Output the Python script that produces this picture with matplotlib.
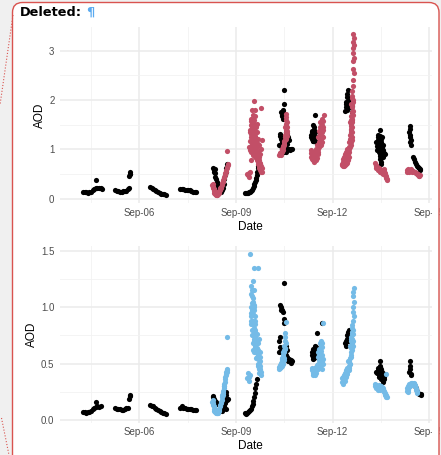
"""
AOD time series for two wavelengths, ground (black) vs. retrieval (colour)
"""

import numpy as np
import matplotlib.pyplot as plt
import matplotlib as mpl
from matplotlib.patches import FancyBboxPatch, Rectangle
from matplotlib.lines import Line2D
from matplotlib.transforms import IdentityTransform

mpl.rcParams.update(mpl.rcParamsDefault)
plt.rc('font', **{'family': 'sans-serif', 'sans-serif': ['Liberation Sans'], 'size': 7})

#%% data: (day of September, AOD)

tick_days = [6, 9, 12, 15]
tick_labels = ['Sep-06', 'Sep-09', 'Sep-12', 'Sep-15']

# upper panel, ground measurements
top_black = [
    (4.26, 0.15), (4.30, 0.14), (4.35, 0.14), (4.40, 0.13), (4.45, 0.14), (4.50, 0.15),
    (4.55, 0.18), (4.60, 0.21), (4.65, 0.23), (4.70, 0.22), (4.75, 0.23), (4.80, 0.22),
    (4.83, 0.21), (4.64, 0.38),
    (5.25, 0.18), (5.30, 0.17), (5.35, 0.16), (5.40, 0.15), (5.45, 0.15), (5.50, 0.16),
    (5.55, 0.17), (5.60, 0.17), (5.65, 0.20), (5.68, 0.22), (5.69, 0.46), (5.70, 0.50),
    (5.71, 0.54), (5.72, 0.51),
    (6.33, 0.24), (6.38, 0.22), (6.43, 0.20), (6.48, 0.18), (6.53, 0.16), (6.58, 0.14),
    (6.63, 0.12), (6.68, 0.11), (6.73, 0.10), (6.78, 0.10), (6.82, 0.09),
    (7.27, 0.20), (7.32, 0.21), (7.37, 0.20), (7.42, 0.19), (7.47, 0.19), (7.52, 0.18),
    (7.57, 0.18), (7.62, 0.17), (7.67, 0.15), (7.72, 0.14), (7.76, 0.15),
    (8.30, 0.62), (8.32, 0.58), (8.34, 0.52), (8.36, 0.45), (8.38, 0.40), (8.40, 0.35),
    (8.42, 0.30), (8.44, 0.26), (8.46, 0.22), (8.48, 0.20), (8.50, 0.18), (8.52, 0.16),
    (8.55, 0.15), (8.58, 0.18), (8.60, 0.22), (8.62, 0.30), (8.64, 0.40), (8.66, 0.48),
    (8.68, 0.55), (8.70, 0.62), (8.72, 0.70), (8.34, 0.60), (8.31, 0.55),
    (9.28, 0.13), (9.31, 0.12), (9.34, 0.12), (9.37, 0.13), (9.40, 0.14), (9.43, 0.15),
    (9.46, 0.17), (9.49, 0.19), (9.52, 0.22), (9.55, 0.26), (9.57, 0.30), (9.59, 0.34),
    (9.61, 0.38), (9.63, 0.42), (9.65, 0.48), (9.67, 0.55), (9.68, 0.62), (9.70, 0.66),
    (10.50, 2.20), (10.48, 1.92), (10.45, 1.80), (10.40, 1.75), (10.43, 1.68), (10.47, 1.62),
    (10.38, 1.28), (10.40, 1.22), (10.42, 1.15), (10.45, 1.10), (10.48, 1.05), (10.52, 1.00),
    (10.55, 0.95), (10.58, 1.02), (10.62, 1.25), (10.65, 1.20), (10.60, 1.30), (10.70, 1.02),
    (10.74, 1.00), (10.68, 0.98), (10.55, 1.35), (10.36, 1.32), (10.33, 1.10),
    (10.41, 1.08), (10.44, 1.02), (10.47, 0.98), (10.50, 0.95), (10.53, 1.05), (10.57, 0.98),
    (10.63, 1.00), (10.66, 1.02), (10.60, 1.12), (10.43, 1.70), (10.46, 1.75),
    (11.46, 1.70), (11.40, 1.50), (11.42, 1.45), (11.35, 1.38), (11.38, 1.32), (11.40, 1.28),
    (11.36, 1.25), (11.42, 1.22), (11.38, 1.18), (11.44, 1.20), (11.33, 1.30), (11.45, 1.35),
    (11.48, 1.15), (11.34, 1.25), (11.37, 1.22), (11.40, 1.18), (11.43, 1.25), (11.46, 1.28),
    (11.37, 1.35), (11.41, 1.40),
    (12.49, 2.20), (12.45, 2.12), (12.52, 2.05), (12.47, 1.98), (12.55, 2.02), (12.42, 1.92),
    (12.50, 1.90), (12.58, 1.95), (12.44, 1.80), (12.40, 1.78), (12.53, 1.85), (12.62, 1.88),
    (12.60, 1.75), (12.43, 1.95), (12.46, 2.06), (12.51, 1.96), (12.56, 1.92), (12.48, 1.84),
    (12.42, 1.85),
    (13.48, 1.40), (13.46, 1.28), (13.50, 1.22), (13.42, 1.20), (13.40, 1.12), (13.45, 1.10),
    (13.52, 1.15), (13.55, 1.05), (13.48, 1.02), (13.38, 1.08), (13.44, 1.00), (13.50, 0.95),
    (13.56, 0.98), (13.60, 0.92), (13.52, 0.88), (13.58, 0.85), (13.48, 0.80), (13.50, 0.75),
    (13.52, 0.70), (13.36, 1.15), (13.42, 1.30), (13.54, 1.25), (13.62, 0.90),
    (13.41, 1.25), (13.44, 1.18), (13.47, 1.15), (13.50, 1.08), (13.53, 1.02), (13.46, 1.05),
    (13.41, 1.04), (13.39, 0.98), (13.43, 0.94), (13.47, 0.90), (13.53, 0.92), (13.57, 0.95),
    (13.55, 0.90), (13.49, 0.86), (13.51, 0.82), (13.45, 1.22), (13.58, 1.10),
    (14.40, 1.48), (14.41, 1.42), (14.39, 1.35), (14.42, 1.30), (14.40, 1.25), (14.43, 1.20),
    (14.41, 1.15), (14.44, 1.10), (14.50, 0.85), (14.53, 0.80), (14.56, 0.75), (14.59, 0.70),
    (14.62, 0.67), (14.65, 0.64), (14.68, 0.62), (14.71, 0.60), (14.73, 0.59),
]

# upper panel, retrieval
top_red = [
    (8.28, 0.30), (8.30, 0.25), (8.32, 0.20), (8.34, 0.15), (8.36, 0.12), (8.38, 0.10),
    (8.40, 0.09), (8.43, 0.10), (8.46, 0.12), (8.49, 0.16), (8.52, 0.20), (8.55, 0.25),
    (8.58, 0.32), (8.61, 0.38), (8.64, 0.45), (8.67, 0.52), (8.70, 0.58), (8.72, 0.64),
    (8.74, 0.68), (8.71, 0.96), (8.45, 0.14), (8.50, 0.22),
    (8.27, 0.28), (8.29, 0.22), (8.31, 0.17), (8.33, 0.12), (8.35, 0.10), (8.37, 0.08),
    (8.41, 0.08), (8.44, 0.11), (8.47, 0.14), (8.51, 0.18), (8.54, 0.22), (8.57, 0.28),
    (8.60, 0.35), (8.63, 0.42), (8.66, 0.48), (8.69, 0.55), (8.73, 0.62), (8.75, 0.70),
    (9.56, 1.98), (9.50, 1.80), (9.58, 1.80), (9.78, 1.83), (9.48, 1.62), (9.52, 1.55),
    (9.55, 1.48), (9.50, 1.42), (9.57, 1.38), (9.47, 1.32), (9.60, 1.28), (9.53, 1.25),
    (9.45, 1.18), (9.62, 1.20), (9.58, 1.12), (9.50, 1.10), (9.66, 1.05), (9.54, 1.02),
    (9.45, 0.98), (9.70, 0.95), (9.60, 0.92), (9.52, 0.88), (9.68, 0.85), (9.72, 1.10),
    (9.75, 0.90), (9.64, 0.80), (9.70, 0.75), (9.74, 0.70), (9.76, 0.65), (9.78, 0.60),
    (9.80, 0.55), (9.72, 0.62), (9.44, 1.40), (9.48, 1.50), (9.55, 1.60), (9.62, 1.45),
    (9.66, 1.35), (9.70, 1.22), (9.42, 1.05), (9.40, 0.52), (9.38, 0.48), (9.42, 0.45),
    (9.36, 0.50), (9.44, 0.55), (9.58, 1.68), (9.52, 1.70), (9.64, 1.52), (9.46, 1.25),
    (9.60, 1.00), (9.55, 0.95), (9.48, 0.78), (9.80, 1.20), (9.78, 1.00),
    (9.46, 1.58), (9.51, 1.52), (9.57, 1.50), (9.49, 1.45), (9.54, 1.40), (9.59, 1.35),
    (9.45, 1.35), (9.51, 1.32), (9.56, 1.28), (9.49, 1.22), (9.58, 1.18), (9.63, 1.15),
    (9.52, 1.15), (9.47, 1.08), (9.56, 1.06), (9.62, 1.08), (9.68, 1.12), (9.51, 1.00),
    (9.58, 0.98), (9.65, 0.96), (9.48, 0.95), (9.55, 0.90), (9.62, 0.88), (9.72, 0.85),
    (9.58, 0.84), (9.66, 0.78), (9.73, 0.78), (9.68, 0.70), (9.76, 0.72), (9.71, 0.66),
    (9.78, 0.66), (9.74, 0.58), (9.80, 0.62), (9.77, 0.55),
    (10.55, 1.72), (10.57, 1.60), (10.55, 1.52), (10.52, 1.45), (10.56, 1.40), (10.58, 1.33),
    (10.60, 1.28), (10.55, 1.22), (10.50, 1.18), (10.48, 1.12), (10.45, 1.05), (10.42, 1.00),
    (10.40, 0.95), (10.37, 0.90), (10.35, 0.88), (10.38, 0.92), (10.45, 0.98), (10.50, 1.10),
    (10.53, 1.25), (10.58, 1.45), (10.60, 1.38), (10.43, 0.95), (10.47, 1.08),
    (10.36, 0.92), (10.39, 0.88), (10.41, 0.93), (10.44, 1.02), (10.46, 1.05), (10.49, 1.15),
    (10.51, 1.20), (10.54, 1.30), (10.56, 1.35), (10.57, 1.48), (10.58, 1.55), (10.56, 1.65),
    (11.74, 1.70), (11.68, 1.62), (11.62, 1.55), (11.66, 1.50), (11.60, 1.45), (11.64, 1.40),
    (11.58, 1.38), (11.62, 1.32), (11.68, 1.28), (11.55, 1.25), (11.60, 1.20), (11.66, 1.15),
    (11.70, 1.25), (11.52, 1.10), (11.58, 1.05), (11.50, 1.00), (11.45, 0.95), (11.40, 0.92),
    (11.35, 0.95), (11.32, 0.98), (11.38, 0.85), (11.42, 0.80), (11.48, 0.78), (11.52, 0.82),
    (11.55, 0.90), (11.47, 0.88), (11.36, 0.90), (11.72, 1.40), (11.64, 1.10), (11.56, 0.95),
    (11.44, 0.75),
    (11.34, 0.92), (11.37, 0.88), (11.40, 0.85), (11.43, 0.82), (11.46, 0.82), (11.50, 0.86),
    (11.53, 0.92), (11.33, 0.85), (11.36, 0.80), (11.40, 0.78), (11.44, 0.78), (11.48, 0.92),
    (11.52, 0.98), (11.42, 0.88), (11.38, 0.95), (11.56, 1.02), (11.60, 1.10), (11.63, 1.18),
    (11.58, 1.15), (11.65, 1.25), (11.61, 1.28), (11.67, 1.35), (11.63, 1.45), (11.69, 1.45),
    (11.65, 1.55), (11.70, 1.58),
    (12.65, 3.33), (12.66, 3.25), (12.64, 3.18), (12.66, 3.12), (12.65, 3.05), (12.64, 2.95),
    (12.66, 2.85), (12.65, 2.78), (12.64, 2.62), (12.66, 2.55), (12.63, 2.40), (12.65, 2.28),
    (12.62, 2.18), (12.60, 2.08), (12.63, 2.00), (12.58, 1.92), (12.62, 1.85), (12.60, 1.75),
    (12.57, 1.68), (12.61, 1.60), (12.59, 1.52), (12.62, 1.45), (12.56, 1.40), (12.60, 1.35),
    (12.58, 1.28), (12.55, 1.22), (12.52, 1.15), (12.56, 1.10), (12.50, 1.05), (12.46, 1.00),
    (12.42, 0.95), (12.40, 0.90), (12.36, 0.85), (12.34, 0.80), (12.32, 0.75), (12.30, 0.70),
    (12.33, 0.66), (12.38, 0.68), (12.44, 0.72), (12.48, 0.78), (12.52, 0.85), (12.45, 0.88),
    (12.40, 0.75), (12.36, 0.72), (12.50, 0.95), (12.54, 1.30), (12.64, 1.70), (12.55, 1.55),
    (12.62, 1.25),
    (12.31, 0.68), (12.34, 0.70), (12.37, 0.66), (12.41, 0.70), (12.43, 0.80), (12.46, 0.84),
    (12.49, 0.90), (12.33, 0.72), (12.39, 0.82), (12.47, 0.95), (12.52, 1.00), (12.55, 1.05),
    (12.53, 1.18), (12.58, 1.15), (12.57, 1.35), (12.59, 1.42), (12.61, 1.55), (12.60, 1.62),
    (12.63, 1.78), (12.61, 1.90), (12.64, 1.95), (12.62, 2.05), (12.58, 1.60), (12.56, 1.48),
    (12.60, 1.20), (12.35, 0.78), (12.42, 0.86),
    (13.33, 0.72), (13.36, 0.68), (13.38, 0.65), (13.40, 0.62), (13.43, 0.63), (13.46, 0.60),
    (13.50, 0.58), (13.53, 0.56), (13.56, 0.55), (13.60, 0.60), (13.62, 0.52), (13.64, 0.48),
    (13.66, 0.44), (13.68, 0.40), (13.35, 0.62), (13.42, 0.58), (13.48, 0.55), (13.58, 0.50),
    (13.34, 0.66), (13.37, 0.62), (13.41, 0.60), (13.44, 0.58), (13.47, 0.57), (13.51, 0.55),
    (13.55, 0.52), (13.59, 0.55), (13.61, 0.56), (13.63, 0.50), (13.65, 0.46), (13.67, 0.42),
    (13.69, 0.38),
    (14.30, 0.55), (14.34, 0.56), (14.38, 0.55), (14.42, 0.56), (14.46, 0.55), (14.50, 0.57),
    (14.54, 0.55), (14.58, 0.52), (14.62, 0.50), (14.66, 0.48), (14.70, 0.47), (14.36, 0.60),
    (14.44, 0.60), (14.32, 0.58), (14.40, 0.58), (14.48, 0.56), (14.52, 0.54), (14.56, 0.54),
    (14.60, 0.52), (14.64, 0.50), (14.68, 0.46), (14.71, 0.48),
]

# lower panel, ground measurements
bottom_black = [
    (4.26, 0.07), (4.30, 0.07), (4.35, 0.065), (4.40, 0.07), (4.45, 0.075), (4.50, 0.08),
    (4.55, 0.10), (4.60, 0.11), (4.65, 0.115), (4.70, 0.12), (4.75, 0.115), (4.80, 0.12),
    (4.66, 0.16),
    (5.25, 0.11), (5.30, 0.10), (5.35, 0.10), (5.40, 0.095), (5.45, 0.09), (5.50, 0.09),
    (5.55, 0.10), (5.60, 0.11), (5.65, 0.11), (5.69, 0.19), (5.70, 0.21), (5.71, 0.22),
    (6.33, 0.13), (6.38, 0.125), (6.43, 0.12), (6.48, 0.11), (6.53, 0.10), (6.58, 0.09),
    (6.63, 0.08), (6.68, 0.07), (6.73, 0.065), (6.78, 0.06), (6.82, 0.055),
    (7.27, 0.11), (7.32, 0.12), (7.37, 0.11), (7.42, 0.11), (7.47, 0.10), (7.52, 0.10),
    (7.57, 0.10), (7.62, 0.095), (7.67, 0.09), (7.72, 0.09), (7.76, 0.085),
    (8.28, 0.21), (8.30, 0.20), (8.33, 0.19), (8.36, 0.17), (8.39, 0.16), (8.42, 0.14),
    (8.58, 0.08), (8.61, 0.10), (8.63, 0.12), (8.65, 0.15), (8.67, 0.18), (8.69, 0.22),
    (8.70, 0.25), (8.72, 0.18), (8.74, 0.19), (8.68, 0.10),
    (9.28, 0.06), (9.31, 0.055), (9.34, 0.06), (9.37, 0.07), (9.40, 0.08), (9.43, 0.09),
    (9.46, 0.10), (9.49, 0.12), (9.52, 0.14), (9.54, 0.17), (9.56, 0.20), (9.58, 0.24),
    (9.60, 0.28), (9.62, 0.32), (9.64, 0.36),
    (10.50, 1.22), (10.38, 1.02), (10.40, 1.00), (10.43, 0.98), (10.46, 0.96), (10.48, 0.90),
    (10.50, 0.86), (10.36, 0.74), (10.34, 0.70), (10.36, 0.65), (10.40, 0.60), (10.48, 0.62),
    (10.52, 0.60), (10.55, 0.58), (10.58, 0.55), (10.62, 0.52), (10.66, 0.52), (10.70, 0.51),
    (10.74, 0.52), (10.56, 0.66), (10.60, 0.62), (10.33, 0.60),
    (10.42, 0.62), (10.45, 0.64), (10.52, 0.56), (10.56, 0.54), (10.60, 0.56), (10.64, 0.54),
    (10.68, 0.52), (10.72, 0.53), (10.39, 0.98),
    (11.51, 0.77), (11.66, 0.86), (11.36, 0.60), (11.38, 0.63), (11.40, 0.58), (11.42, 0.62),
    (11.44, 0.55), (11.46, 0.60), (11.48, 0.65), (11.50, 0.58), (11.52, 0.56), (11.40, 0.54),
    (11.45, 0.66), (11.54, 0.62), (11.38, 0.56), (11.37, 0.58), (11.41, 0.60), (11.43, 0.58),
    (11.47, 0.57), (11.49, 0.62), (11.51, 0.60),
    (12.40, 0.68), (12.42, 0.70), (12.44, 0.72), (12.46, 0.75), (12.48, 0.78), (12.50, 0.80),
    (12.43, 0.66), (12.47, 0.70), (12.52, 0.74),
    (13.48, 0.52), (13.46, 0.48), (13.42, 0.46), (13.40, 0.44), (13.38, 0.42), (13.36, 0.43),
    (13.44, 0.42), (13.48, 0.44), (13.52, 0.45), (13.55, 0.43), (13.50, 0.40), (13.54, 0.38),
    (13.58, 0.40), (13.60, 0.36), (13.56, 0.34), (13.52, 0.36), (13.44, 0.38), (13.62, 0.41),
    (13.41, 0.43), (13.45, 0.45), (13.49, 0.47), (13.53, 0.41), (13.57, 0.37), (13.47, 0.41),
    (13.51, 0.38), (13.55, 0.40), (13.59, 0.38), (13.43, 0.40),
    (14.41, 0.52), (14.40, 0.48), (14.42, 0.45), (14.39, 0.43), (14.43, 0.41), (14.45, 0.40),
    (14.52, 0.32), (14.55, 0.30), (14.58, 0.28), (14.62, 0.26), (14.66, 0.24), (14.70, 0.23),
    (14.74, 0.23), (14.76, 0.22),
]

# lower panel, retrieval
bottom_blue = [
    (8.28, 0.18), (8.30, 0.15), (8.32, 0.12), (8.34, 0.10), (8.36, 0.08), (8.38, 0.07),
    (8.40, 0.06), (8.43, 0.07), (8.46, 0.08), (8.49, 0.10), (8.52, 0.13), (8.55, 0.16),
    (8.58, 0.20), (8.60, 0.24), (8.62, 0.28), (8.64, 0.32), (8.66, 0.36), (8.68, 0.40),
    (8.70, 0.43), (8.72, 0.45), (8.73, 0.74), (8.45, 0.06), (8.50, 0.12), (8.56, 0.22),
    (8.62, 0.30),
    (8.27, 0.16), (8.29, 0.13), (8.31, 0.10), (8.33, 0.08), (8.35, 0.07), (8.37, 0.06),
    (8.42, 0.065), (8.44, 0.075), (8.47, 0.09), (8.51, 0.12), (8.54, 0.15), (8.57, 0.18),
    (8.59, 0.22), (8.61, 0.26), (8.63, 0.30), (8.65, 0.34), (8.67, 0.38), (8.69, 0.41),
    (8.71, 0.44), (8.73, 0.43),
    (9.45, 1.47), (9.56, 1.35), (9.70, 1.35), (9.52, 1.23), (9.48, 1.19), (9.55, 1.15),
    (9.50, 1.10), (9.53, 1.05), (9.47, 1.00), (9.55, 0.98), (9.50, 0.95), (9.58, 0.92),
    (9.52, 0.88), (9.46, 0.85), (9.56, 0.82), (9.60, 0.78), (9.50, 0.75), (9.64, 0.76),
    (9.55, 0.72), (9.62, 0.70), (9.68, 0.68), (9.58, 0.65), (9.52, 0.62), (9.66, 0.60),
    (9.70, 0.58), (9.62, 0.55), (9.74, 0.52), (9.70, 0.50), (9.76, 0.48), (9.72, 0.45),
    (9.78, 0.43), (9.74, 0.60), (9.48, 0.92), (9.44, 0.40), (9.40, 0.38), (9.36, 0.37),
    (9.42, 0.35), (9.38, 0.42), (9.56, 1.00), (9.60, 0.88), (9.72, 0.72), (9.76, 0.56),
    (9.47, 1.12), (9.52, 1.08), (9.49, 1.04), (9.55, 1.02), (9.51, 0.98), (9.54, 0.94),
    (9.48, 0.88), (9.53, 0.85), (9.58, 0.85), (9.51, 0.80), (9.55, 0.78), (9.60, 0.74),
    (9.57, 0.70), (9.52, 0.68), (9.60, 0.66), (9.64, 0.64), (9.56, 0.60), (9.62, 0.60),
    (9.68, 0.62), (9.66, 0.56), (9.70, 0.54), (9.73, 0.50), (9.68, 0.48), (9.75, 0.45),
    (9.72, 0.42), (9.77, 0.40), (9.50, 1.15), (9.46, 0.95), (9.58, 0.80),
    (10.56, 0.87), (10.52, 0.70), (10.50, 0.66), (10.48, 0.62), (10.46, 0.58), (10.44, 0.55),
    (10.42, 0.52), (10.40, 0.50), (10.38, 0.48), (10.36, 0.46), (10.34, 0.45), (10.45, 0.60),
    (10.50, 0.55), (10.54, 0.63), (10.47, 0.50), (10.41, 0.47), (10.53, 0.77),
    (10.35, 0.47), (10.37, 0.49), (10.39, 0.51), (10.43, 0.54), (10.47, 0.57), (10.49, 0.60),
    (10.52, 0.64), (10.55, 0.68), (10.54, 0.74), (10.44, 0.48), (10.48, 0.53),
    (11.71, 0.86), (11.64, 0.70), (11.60, 0.68), (11.66, 0.65), (11.58, 0.63), (11.62, 0.60),
    (11.68, 0.58), (11.56, 0.56), (11.60, 0.54), (11.66, 0.52), (11.70, 0.50), (11.55, 0.50),
    (11.58, 0.46), (11.52, 0.46), (11.48, 0.44), (11.44, 0.43), (11.40, 0.42), (11.36, 0.44),
    (11.38, 0.40), (11.42, 0.41), (11.46, 0.40), (11.50, 0.42), (11.62, 0.48), (11.68, 0.45),
    (11.56, 0.60),
    (11.37, 0.46), (11.41, 0.45), (11.45, 0.46), (11.49, 0.47), (11.53, 0.49), (11.57, 0.53),
    (11.61, 0.57), (11.65, 0.61), (11.67, 0.68), (11.63, 0.66), (11.59, 0.58), (11.54, 0.45),
    (11.64, 0.55), (11.69, 0.54), (11.62, 0.52),
    (12.66, 1.17), (12.65, 1.14), (12.64, 1.10), (12.66, 1.05), (12.65, 1.00), (12.64, 0.96),
    (12.66, 0.92), (12.63, 0.88), (12.61, 0.84), (12.64, 0.80), (12.60, 0.78), (12.63, 0.76),
    (12.58, 0.74), (12.62, 0.72), (12.56, 0.70), (12.60, 0.68), (12.58, 0.64), (12.62, 0.62),
    (12.57, 0.58), (12.55, 0.55), (12.52, 0.52), (12.54, 0.50), (12.50, 0.48), (12.46, 0.46),
    (12.42, 0.44), (12.38, 0.42), (12.36, 0.40), (12.34, 0.38), (12.32, 0.36), (12.30, 0.34),
    (12.33, 0.32), (12.38, 0.35), (12.42, 0.38), (12.46, 0.41), (12.50, 0.44), (12.40, 0.40),
    (12.48, 0.52), (12.60, 0.82), (12.55, 0.66),
    (12.31, 0.37), (12.35, 0.36), (12.39, 0.38), (12.43, 0.41), (12.47, 0.44), (12.51, 0.46),
    (12.53, 0.50), (12.56, 0.56), (12.58, 0.60), (12.60, 0.65), (12.61, 0.70), (12.59, 0.72),
    (12.62, 0.76), (12.64, 0.70), (12.63, 0.66), (12.44, 0.43), (12.37, 0.38),
    (13.32, 0.32), (13.35, 0.31), (13.38, 0.30), (13.42, 0.30), (13.46, 0.29), (13.50, 0.30),
    (13.54, 0.29), (13.58, 0.28), (13.60, 0.26), (13.62, 0.24), (13.64, 0.22), (13.66, 0.21),
    (13.68, 0.20), (13.66, 0.41), (13.34, 0.28), (13.40, 0.27), (13.48, 0.27),
    (13.33, 0.30), (13.37, 0.29), (13.41, 0.28), (13.45, 0.31), (13.51, 0.28), (13.56, 0.27),
    (13.61, 0.25), (13.63, 0.23), (13.65, 0.20), (13.67, 0.22),
    (14.30, 0.26), (14.33, 0.27), (14.36, 0.30), (14.39, 0.32), (14.42, 0.30), (14.45, 0.33),
    (14.48, 0.33), (14.52, 0.33), (14.56, 0.31), (14.58, 0.28), (14.61, 0.26), (14.63, 0.24),
    (14.36, 0.25), (14.31, 0.28), (14.35, 0.28), (14.38, 0.29), (14.44, 0.31), (14.50, 0.31),
    (14.54, 0.32), (14.57, 0.30), (14.60, 0.27), (14.62, 0.25),
]

#%% figure

W, H = 441, 455
fig = plt.figure(figsize=(W / 100, H / 100), dpi=100)
fig.patch.set_facecolor('#f0f0f0')

def px_box(x0, y0, x1, y1):
    # pixel box (top-left origin) -> figure fractions
    return [x0 / W, 1 - y1 / H, (x1 - x0) / W, (y1 - y0) / H]

red_edge = '#d9534f'

# comment balloon: white fill below the charts, outline drawn on top
fig.add_artist(FancyBboxPatch((12.5, -20), 426.5, H - 2.5 + 20,
                              boxstyle='round,pad=0,rounding_size=10',
                              transform=IdentityTransform(), facecolor='white',
                              edgecolor='none', zorder=-5))
fig.add_artist(Line2D([13 / W, 0], [1 - 15 / H, 1 - 105 / H], transform=fig.transFigure,
                      color=red_edge, linestyle=':', linewidth=0.8))
fig.add_artist(Line2D([1.5 / W, 9 / W], [1 - 418 / H, 0], transform=fig.transFigure,
                      color=red_edge, linestyle=':', linewidth=0.8))

fig.text(20 / W, 1 - 12 / H, 'Deleted:', fontfamily='DejaVu Sans', fontweight='bold',
         fontsize=9.3, va='center', ha='left')
fig.text(86 / W, 1 - 12 / H, '\u00b6', fontfamily='DejaVu Sans', fontweight='bold',
         fontsize=9.3, va='center', ha='left', color='#5aaaf0')

panels = [
    (px_box(60, 26.5, 440, 203.5), (-0.091, 3.485), [0, 1, 2, 3], ['0', '1', '2', '3'],
     [0.5, 1.5, 2.5], top_black, top_red, '#c24f67'),
    (px_box(60, 246, 440, 422.5), (-0.022, 1.544), [0, 0.5, 1.0, 1.5],
     ['0.0', '0.5', '1.0', '1.5'], [0.25, 0.75, 1.25], bottom_black, bottom_blue, '#74bbe7'),
]

day_min = 6 + (60 - 139.3) / 32.2
day_max = 6 + (440 - 139.3) / 32.2

for pos, ylim, yticks, ylabels, yminor, black, colour, c in panels:
    ax = fig.add_axes(pos)
    ax.set_facecolor('none')
    for s in ax.spines.values():
        s.set_visible(False)

    bx, by = np.array(black).T
    cx, cy = np.array(colour).T
    ax.scatter(bx, by, s=14, color='black', linewidths=0, zorder=3)
    ax.scatter(cx, cy, s=14, color=c, linewidths=0, zorder=4)

    ax.set_xlim(day_min, day_max)
    ax.set_ylim(*ylim)
    ax.set_xticks(tick_days)
    ax.set_xticklabels(tick_labels)
    ax.set_xticks([4.5, 7.5, 10.5, 13.5], minor=True)
    ax.set_yticks(yticks)
    ax.set_yticklabels(ylabels)
    ax.set_yticks(yminor, minor=True)
    ax.grid(which='major', color='#ebebeb', linewidth=1.1, zorder=0)
    ax.grid(which='minor', color='#f2f2f2', linewidth=0.6, zorder=0)
    ax.set_axisbelow(True)
    ax.tick_params(which='both', length=0, labelcolor='#4d4d4d', labelsize=7)
    ax.tick_params(axis='x', pad=3.5)
    ax.tick_params(axis='y', pad=4)
    ax.set_xlabel('Date', fontsize=8.5, labelpad=2)
    ax.set_ylabel('AOD', fontsize=8.5, labelpad=2.5)

# embedded chart stops short of the balloon edge
fig.add_artist(Rectangle((432 / W, 0), (439 - 432) / W, 1 - 20 / H, transform=fig.transFigure,
                         facecolor='white', edgecolor='none', zorder=5))
fig.add_artist(Rectangle((439.5 / W, 0), 2 / W, 1 - 20 / H, transform=fig.transFigure,
                         facecolor='#f0f0f0', edgecolor='none', zorder=5))
fig.add_artist(FancyBboxPatch((12.5, -20), 426.5, H - 2.5 + 20,
                              boxstyle='round,pad=0,rounding_size=10',
                              transform=IdentityTransform(), facecolor='none',
                              edgecolor=red_edge, linewidth=1.0, zorder=6))

fig.savefig('out.png', dpi=100, facecolor=fig.get_facecolor())
